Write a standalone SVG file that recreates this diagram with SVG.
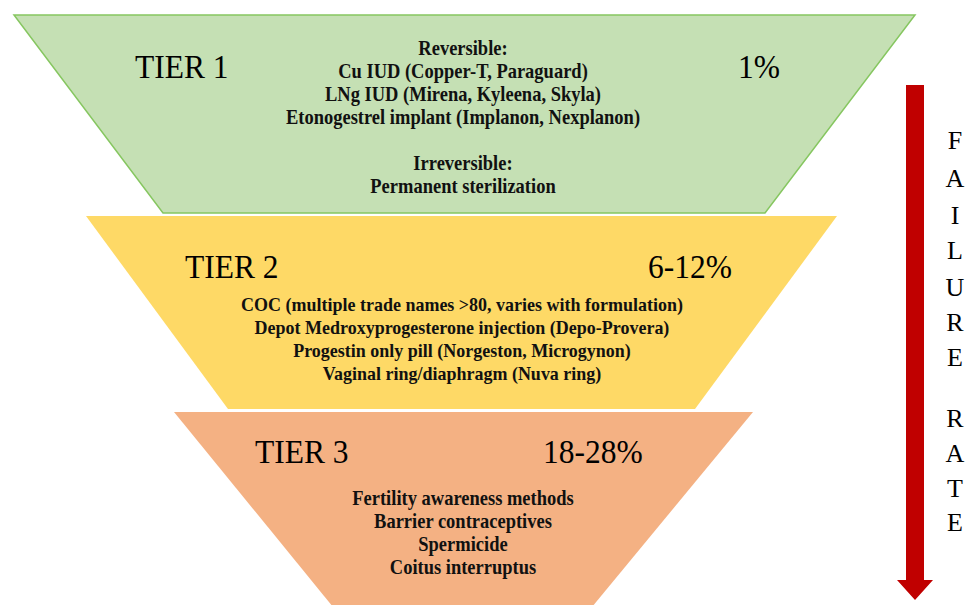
<svg xmlns="http://www.w3.org/2000/svg" width="972" height="605" viewBox="0 0 972 605">
<style>
.tier{font-family:"Liberation Serif","Times New Roman",serif;font-size:31.5px;fill:#000;transform:scaleY(1.1);transform-box:fill-box;transform-origin:center}
.item{font-family:"Liberation Serif","Times New Roman",serif;font-size:18.5px;font-weight:bold;fill:#111;text-anchor:middle;transform:scaleY(1.1);transform-box:fill-box;transform-origin:center}
.item2{font-size:18px}
.side{font-family:"Liberation Serif","Times New Roman",serif;font-size:26px;fill:#000;text-anchor:middle}
</style>
<rect width="972" height="605" fill="#ffffff"/>
<g id="tier1">
<polygon points="14,15 915,15 765,213 163,213" fill="#c5e0b4" stroke="#86c660" stroke-width="1.5"/>
<text class="tier" x="135" y="77">TIER 1</text>
<text class="tier" x="738" y="77">1%</text>
<text class="item" x="463" y="54">Reversible:</text>
<text class="item" x="463" y="77">Cu IUD (Copper-T, Paraguard)</text>
<text class="item" x="463" y="100">LNg IUD (Mirena, Kyleena, Skyla)</text>
<text class="item" x="463" y="123">Etonogestrel implant (Implanon, Nexplanon)</text>
<text class="item" x="463" y="169">Irreversible:</text>
<text class="item" x="463" y="192">Permanent sterilization</text>
</g>
<g id="tier2">
<polygon points="86,216 837,216 695,409 228,409" fill="#fed966"/>
<text class="tier" x="185" y="277">TIER 2</text>
<text class="tier" x="648" y="277">6-12%</text>
<text class="item item2" x="462" y="310">COC (multiple trade names &gt;80, varies with formulation)</text>
<text class="item item2" x="462" y="333">Depot Medroxyprogesterone injection (Depo-Provera)</text>
<text class="item item2" x="462" y="356">Progestin only pill (Norgeston, Microgynon)</text>
<text class="item item2" x="462" y="379">Vaginal ring/diaphragm (Nuva ring)</text>
</g>
<g id="tier3">
<polygon points="174,412 753,412 592,607 333,607" fill="#f4b183"/>
<text class="tier" x="255" y="462">TIER 3</text>
<text class="tier" x="543" y="462">18-28%</text>
<text class="item" x="463" y="504">Fertility awareness methods</text>
<text class="item" x="463" y="527">Barrier contraceptives</text>
<text class="item" x="463" y="550">Spermicide</text>
<text class="item" x="463" y="573">Coitus interruptus</text>
</g>
<g id="connectors">
<polygon points="906,85 924,85 924,580 933,580 915,600 897,580 906,580" fill="#c00000"/>
</g>
<g id="failure-rate">
<text class="side" x="955" y="149">F</text>
<text class="side" x="955" y="187">A</text>
<text class="side" x="955" y="224">I</text>
<text class="side" x="955" y="259">L</text>
<text class="side" x="955" y="296">U</text>
<text class="side" x="955" y="331">R</text>
<text class="side" x="955" y="366">E</text>
<text class="side" x="955" y="427">R</text>
<text class="side" x="955" y="462">A</text>
<text class="side" x="955" y="497">T</text>
<text class="side" x="955" y="531">E</text>
</g>
</svg>
